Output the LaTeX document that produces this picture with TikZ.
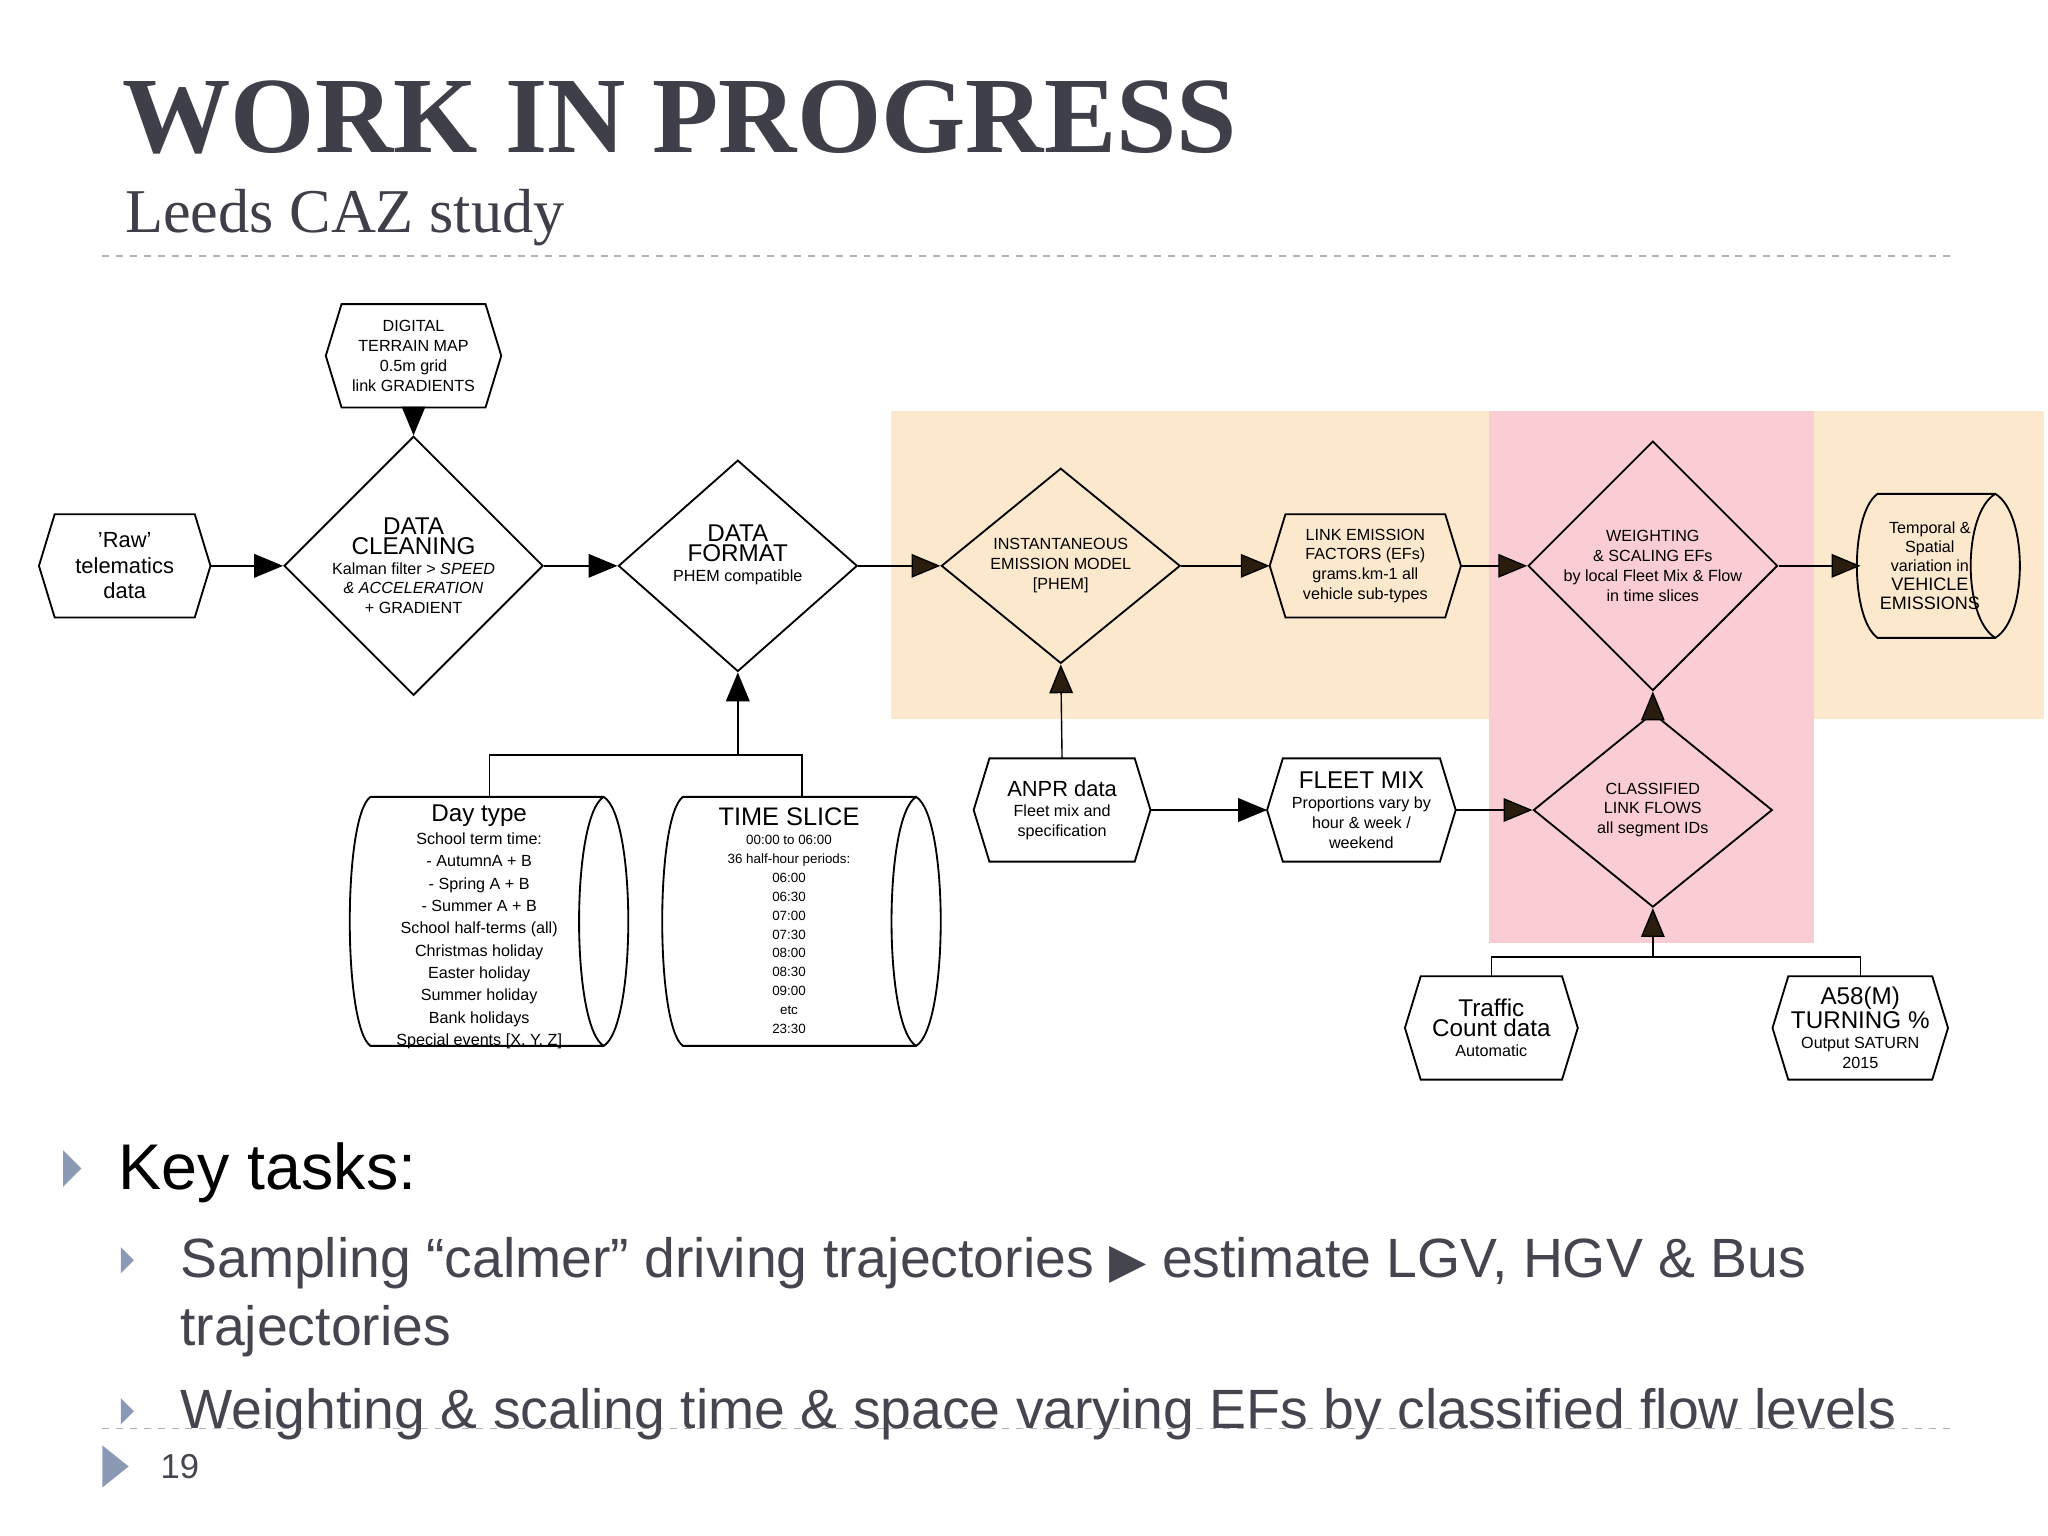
\documentclass[tikz,border=0pt]{standalone}
\usepackage{fontspec}
\setmainfont{Liberation Sans}
\newfontfamily\serifT{Liberation Serif}
\newfontfamily\dvs{DejaVu Sans}
\usetikzlibrary{arrows.meta,shapes.geometric}
\definecolor{orbg}{HTML}{FCE8CC}
\definecolor{pkbg}{HTML}{F9CDD3}
\definecolor{titlec}{HTML}{3F3F4A}
\definecolor{bodyc}{HTML}{45454F}
\definecolor{bulc}{HTML}{8A9AB5}
\definecolor{arrc}{HTML}{2B1D0E}
\newcommand\hh[1]{{\fontsize{10.5}{12}\selectfont #1}}
\newcommand\hm[1]{{\fontsize{9.5}{11}\selectfont #1}}
\tikzset{
  box/.style={rectangle,draw=none,inner sep=0pt,align=center,font=\fontsize{7}{8.6}\selectfont},
  dia/.style={diamond,draw,line width=0.8pt,inner sep=0pt,minimum width=3.64cm,minimum height=2.96cm,align=center,font=\fontsize{7}{8.6}\selectfont},
  conn/.style={line width=0.6pt},
  arr/.style={line width=0.6pt,-{Triangle[length=0.44cm,width=0.36cm]}},
  arrb/.style={line width=0.6pt,-{Triangle[length=0.44cm,width=0.36cm,fill=arrc]}},
}
\newcommand\hexdraw[1]{\draw[line width=0.8pt] ([xshift=0.24cm]#1.north west) -- ([xshift=-0.24cm]#1.north east) -- (#1.east) -- ([xshift=-0.24cm]#1.south east) -- ([xshift=0.24cm]#1.south west) -- (#1.west) -- cycle;}
\newcommand\storedraw[1]{\draw[line width=0.8pt] ([xshift=0.32cm]#1.north west) -- ([xshift=-0.4cm]#1.north east) .. controls ([xshift=0.1cm,yshift=-0.3cm]#1.north east) and ([xshift=0.1cm,yshift=0.3cm]#1.south east) .. ([xshift=-0.4cm]#1.south east) -- ([xshift=0.32cm]#1.south west) .. controls ([xshift=-0.1cm,yshift=0.3cm]#1.south west) and ([xshift=-0.1cm,yshift=-0.3cm]#1.north west) .. cycle;
\draw[line width=0.8pt] ([xshift=-0.4cm]#1.north east) .. controls ([xshift=-0.9cm,yshift=-0.3cm]#1.north east) and ([xshift=-0.9cm,yshift=0.3cm]#1.south east) .. ([xshift=-0.4cm]#1.south east);}
\begin{document}
\begin{tikzpicture}[x=0.02cm,y=-0.02cm]
\useasboundingbox (0,0) rectangle (1560,1170);
\fill[white] (0,0) rectangle (1560,1170);
% backgrounds
\fill[orbg] (679,313) rectangle (1557,548);
\fill[pkbg] (1134,313) rectangle (1382,718);
% dashed rules
\draw[gray!60,dashed,line width=0.6pt] (78,195) -- (1490,195);
\draw[gray!60,dashed,line width=0.6pt] (78,1088) -- (1490,1088);
% title
\node[anchor=base west,inner sep=0,text=titlec,font=\serifT\bfseries\fontsize{47}{50}\selectfont] (title) at (93,116) {WORK IN PROGRESS};
\node[anchor=base west,inner sep=0,text=titlec,font=\serifT\fontsize{27}{30}\selectfont] (sub) at (95,177) {Leeds CAZ study};
% hexagon nodes
\node[box,minimum width=2.6cm,minimum height=1.56cm,font=\fontsize{9.5}{11}\selectfont] (raw) at (95,431) {'Raw'\\telematics\\data};
\node[box,minimum width=2.66cm,minimum height=1.56cm] (dtm) at (315,271) {DIGITAL\\TERRAIN MAP\\0.5m grid\\link GRADIENTS};
\node[box,minimum width=2.68cm,minimum height=1.56cm] (anpr) at (809,617) {\hm{ANPR data}\\Fleet mix and\\specification};
\node[box,minimum width=2.9cm,minimum height=1.56cm] (link) at (1040,431) {LINK EMISSION\\FACTORS (EFs)\\grams.km-1 all\\vehicle sub-types};
\node[box,minimum width=2.86cm,minimum height=1.56cm] (fleet) at (1037,617) {\hh{FLEET MIX}\\Proportions vary by\\hour \& week /\\weekend};
\node[box,minimum width=2.62cm,minimum height=1.56cm] (traffic) at (1136,783) {\hh{Traffic}\\\hh{Count data}\\Automatic};
\node[box,minimum width=2.66cm,minimum height=1.56cm] (a58) at (1417,783) {\hh{A58(M)}\\\hh{TURNING \%}\\Output SATURN\\2015};
\foreach \n in {raw,dtm,anpr,link,fleet,traffic,a58} {\hexdraw{\n}}
% diamonds
\node[dia,minimum width=3.6cm] (clean) at (315,431) {\hh{DATA}\\\hh{CLEANING}\\Kalman filter > \textit{SPEED}\\\textit{\& ACCELERATION}\\+ GRADIENT};
\node[dia] (format) at (562,431) {\hh{DATA}\\\hh{FORMAT}\\PHEM compatible\\\strut};
\node[dia] (inst) at (808,431) {INSTANTANEOUS\\EMISSION MODEL\\{[PHEM]}};
\node[dia] (weight) at (1259,431) {WEIGHTING\\\& SCALING EFs\\by local Fleet Mix \& Flow\\in time slices};
\node[dia] (class) at (1259,617) {CLASSIFIED\\LINK FLOWS\\all segment IDs};
% stored data shapes
\node[box,minimum width=4.26cm,minimum height=3.78cm,anchor=north] (day) at (373,607) {};
\node[anchor=north,align=center,inner sep=0,font=\fontsize{7}{9.7}\selectfont] (daytxt) at (365,613) {\hh{Day type}\\School term time:\\- AutumnA + B\\- Spring A + B\\- Summer A + B\\School half-terms (all)\\Christmas holiday\\Easter holiday\\Summer holiday\\Bank holidays\\Special events {[X, Y, Z]}};
\node[box,minimum width=4.26cm,minimum height=3.78cm,anchor=north] (time) at (611,607) {};
\node[anchor=north,align=center,inner sep=0,font=\fontsize{5.8}{8.2}\selectfont] (timetxt) at (601,615) {{\fontsize{11}{12.5}\selectfont TIME SLICE}\\00:00 to 06:00\\36 half-hour periods:\\06:00\\06:30\\07:00\\07:30\\08:00\\08:30\\09:00\\etc\\23:30};
\node[box,minimum width=2.5cm,minimum height=2.18cm] (out) at (1477,431) {};
\node[align=center,inner sep=0,font=\fontsize{7}{8.3}\selectfont] (outtxt) at (1470,431) {Temporal \&\\Spatial\\variation in\\{\fontsize{7.8}{9}\selectfont VEHICLE}\\{\fontsize{7.8}{9}\selectfont EMISSIONS}};
\foreach \n in {day,time,out} {\storedraw{\n}}
% connectors
\draw[arr] (dtm.south) -- (clean.north);
\draw[arr] (raw.east) -- (clean.west);
\draw[arr] (clean.east) -- (format.west);
\draw[arrb] (format.east) -- (inst.west);
\draw[arrb] (inst.east) -- (link.west);
\draw[arrb] (link.east) -- (weight.west);
\draw[arrb] (weight.east) -- ([xshift=0.06cm]out.west);
\draw[arrb] (class.north) -- (weight.south);
\draw[arrb] (anpr.north) -- (inst.south);
\draw[arr] (anpr.east) -- (fleet.west);
\draw[arrb] (fleet.east) -- (class.west);
\coordinate (j1) at (562,575);
\draw[conn] (day.north) |- (j1) -| (time.north);
\draw[arr] (j1) -- (format.south);
\coordinate (j2) at (1259,729);
\draw[conn] (traffic.north) |- (j2) -| (a58.north);
\draw[arrb] (j2) -- (class.south);
% bullets
\fill[bulc] (48,876) -- (62,890) -- (48,904) -- cycle;
\node[anchor=base west,inner sep=0,font=\fontsize{28}{32}\selectfont] (kt) at (90,906) {Key tasks:};
\fill[bulc] (92,950) -- (102,960) -- (92,970) -- cycle;
\node[anchor=base west,inner sep=0,text=bodyc,font=\fontsize{24}{28}\selectfont] (b1) at (137,973) {Sampling “calmer” driving trajectories {\dvs\fontsize{21}{24}\selectfont ▶} estimate LGV, HGV \& Bus};
\node[anchor=base west,inner sep=0,text=bodyc,font=\fontsize{24}{28}\selectfont] (b1b) at (137,1025) {trajectories};
\fill[bulc] (92,1065) -- (102,1075) -- (92,1085) -- cycle;
\node[anchor=base west,inner sep=0,text=bodyc,font=\fontsize{24}{28}\selectfont] (b2) at (137,1088) {Weighting \& scaling time \& space varying EFs by classified flow levels};
\fill[bulc] (78,1101) -- (98,1117) -- (78,1133) -- cycle;
\node[anchor=west,inner sep=0,text=bodyc,font=\fontsize{15}{18}\selectfont] (pg) at (122,1117) {19};
\end{tikzpicture}
\end{document}
